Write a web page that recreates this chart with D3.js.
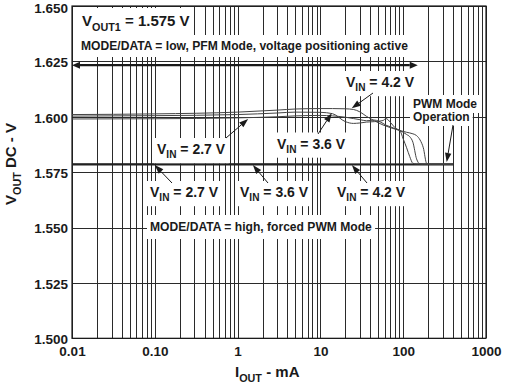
<!DOCTYPE html>
<html><head><meta charset="utf-8">
<script src="https://cdn.jsdelivr.net/npm/d3@7"></script>
<style>
body{margin:0;background:#fff}
svg text{font-family:"Liberation Sans",Arial,sans-serif;font-weight:bold;fill:#1a1a1a}
</style></head><body>
<svg id="c" width="507" height="387"></svg>
<script>
// ---- data ----
const xTickValues=[0.01,0.1,1,10,100,1000];
const xTickLabels=["0.01","0.10","1","10","100","1000"];
const yTickValues=[1.500,1.525,1.550,1.575,1.600,1.625,1.650];
const yTickLabels=["1.500","1.525","1.550","1.575","1.600","1.625","1.650"];

// PFM mode (MODE/DATA = low), I_OUT in mA
const pfmCurrent=[0.01,0.1,1,3,5,10,14,20,25,30,36,45,57,62,70,80,91,100,110,120,131,145,160,175,192,220,300,400];
const pfm42=[1.6010,1.6013,1.6021,1.6030,1.6035,1.6037,1.6037,1.6036,1.6033,1.6022,1.6002,1.5982,1.5963,1.5958,1.5951,1.5944,1.5938,1.5934,1.5930,1.5927,1.5923,1.5915,1.5895,1.5860,1.5790,1.5786,1.5786,1.5786];
const pfm36=[1.6003,1.6005,1.6010,1.6017,1.6021,1.6020,1.6014,1.5978,1.5970,1.5972,1.5976,1.5978,1.5983,1.5992,1.5975,1.5950,1.5938,1.5930,1.5920,1.5910,1.5885,1.5810,1.5787,1.5786,1.5786,1.5786,1.5786,1.5786];
const pfm27=[1.5990,1.5991,1.5995,1.6000,1.6004,1.6006,1.6004,1.5998,1.5992,1.5987,1.5982,1.5985,1.5970,1.5962,1.5955,1.5946,1.5938,1.5900,1.5860,1.5820,1.5790,1.5787,1.5787,1.5787,1.5787,1.5787,1.5787,1.5787];

// forced PWM mode (MODE/DATA = high)
const pwmCurrent=[0.01,0.1,1,10,100,400];
const pwm27=[1.5788,1.5788,1.5788,1.5787,1.5787,1.5787];
const pwm36=[1.5785,1.5785,1.5785,1.5785,1.5785,1.5785];
const pwm42=[1.5783,1.5783,1.5783,1.5783,1.5783,1.5783];

// ---- chart ----
const svg=d3.select("#c");
const x=d3.scaleLog().domain([0.01,1000]).range([72,486]);
const y=d3.scaleLinear().domain([1.5,1.65]).range([338.3,6]);

// grid
const grid=svg.append("g").attr("stroke","#2a2a2a").attr("stroke-width",1).attr("shape-rendering","crispEdges");
grid.selectAll("line.v").data(x.ticks()).join("line").attr("class","v")
  .attr("x1",d=>Math.round(x(d))+0.5).attr("x2",d=>Math.round(x(d))+0.5)
  .attr("y1",y(1.65)).attr("y2",y(1.5));
grid.selectAll("line.h").data(yTickValues).join("line").attr("class","h")
  .attr("y1",d=>Math.round(y(d))+0.5).attr("y2",d=>Math.round(y(d))+0.5)
  .attr("x1",x(0.01)).attr("x2",x(1000));
svg.append("rect").attr("x",x(0.01)).attr("y",y(1.65)).attr("width",x(1000)-x(0.01)).attr("height",y(1.5)-y(1.65))
  .attr("fill","none").attr("stroke","#1a1a1a").attr("stroke-width",1.2);

// curves
const line=d3.line().x(d=>x(d[0])).y(d=>y(d[1])).curve(d3.curveMonotoneX);
[pwm27,pwm36,pwm42].forEach(s=>{
  svg.append("path").datum(pwmCurrent.map((c,i)=>[c,s[i]])).attr("d",line)
    .attr("fill","none").attr("stroke","#222").attr("stroke-width",1.1);
});
[pfm27,pfm36,pfm42].forEach(s=>{
  svg.append("path").datum(pfmCurrent.map((c,i)=>[c,s[i]])).attr("d",line)
    .attr("fill","none").attr("stroke","#444").attr("stroke-width",1);
});

// axes labels
const xAxis=svg.append("g").attr("transform",`translate(0,${y(1.5)})`)
  .call(d3.axisBottom(x).tickValues(xTickValues).tickFormat((d,i)=>xTickLabels[i]).tickSize(0).tickPadding(8.6));
xAxis.select(".domain").remove();
xAxis.selectAll("text").attr("font-size",13.5).attr("font-family",null).style("font-family","'Liberation Sans',Arial,sans-serif");
const yAxis=svg.append("g").attr("transform",`translate(${x(0.01)},0)`)
  .call(d3.axisLeft(y).tickValues(yTickValues).tickFormat((d,i)=>yTickLabels[i]).tickSize(0).tickPadding(4));
yAxis.select(".domain").remove();
yAxis.selectAll("text").attr("font-size",13.5).attr("font-family",null).style("font-family","'Liberation Sans',Arial,sans-serif")
  .attr("dy",(d,i)=>i===yTickValues.length-1?"0.5em":"0.4em");

// rich text helper
function rich(t,parts,size){
  let sub=false;
  parts.forEach(p=>{
    const ts=t.append("tspan").text(p[0]);
    if(p[1]){ts.attr("font-size",size*0.72).attr("dy",sub?0:size*0.3);sub=true;}
    else{ts.attr("font-size",size).attr("dy",sub?-size*0.3:0);sub=false;}
  });
  return t;
}
function label(px,py,parts,size,pad){
  pad=pad||[3,3];
  const g=svg.append("g");
  const r=g.append("rect").attr("fill","#fff");
  const t=rich(g.append("text").attr("x",px).attr("y",py),parts,size);
  const b=t.node().getBBox();
  r.attr("x",b.x-pad[0]).attr("y",b.y-pad[1]).attr("width",b.width+2*pad[0]).attr("height",b.height+2*pad[1]);
  return g;
}
function arrow(x1,y1,x2,y2,w,len,hw){
  const a=Math.atan2(y2-y1,x2-x1);
  const bx=x2-len*Math.cos(a),by=y2-len*Math.sin(a);
  svg.append("line").attr("x1",x1).attr("y1",y1).attr("x2",bx).attr("y2",by).attr("stroke","#1a1a1a").attr("stroke-width",w);
  const px=-Math.sin(a)*hw,py=Math.cos(a)*hw;
  svg.append("path").attr("d",`M${x2},${y2}L${bx+px},${by+py}L${bx-px},${by-py}Z`).attr("fill","#1a1a1a");
}

// labels
label(82,26,[["V"],["OUT1",1],[" = 1.575 V"]],15,[3,4]);
label(81,50,[["MODE/DATA = low, PFM Mode, voltage positioning active"]],12.1,[3,4]);
label(150,231,[["MODE/DATA = high, forced PWM Mode"]],12.1,[3,5]);
label(413,108,[["PWM Mode"]],12,[3,2]);
label(413,121,[["Operation"]],12,[3,2]);

// top double arrow (PFM region)
const yArr=y(1.6233);
arrow(x(8),yArr,x(150),yArr,2.2,8,3.5);
arrow(x(8),yArr,x(0.01),yArr,2.2,8,3.5);

const vinNotes=[
  {tx:346,ty:87,v:" = 4.2 V",tail:[373,93],tip:[23.9,1.6038]},
  {tx:277,ty:148.5,v:" = 3.6 V",tail:[318,134],tip:[13.7,1.6016]},
  {tx:157,ty:154,v:" = 2.7 V",tail:[226,138],tip:[1.34,1.5990]},
  {tx:150,ty:197,v:" = 2.7 V",tail:[172,183],tip:[0.1,1.5782]},
  {tx:240,ty:197,v:" = 3.6 V",tail:[268,183],tip:[1.53,1.5782]},
  {tx:337,ty:197,v:" = 4.2 V",tail:[367,183],tip:[24,1.5782]}
];
vinNotes.forEach(n=>{
  label(n.tx,n.ty,[["V"],["IN",1],[n.v]],14,[3,3]);
  arrow(n.tail[0],n.tail[1],x(n.tip[0]),y(n.tip[1]),1,9,3.2);
});
arrow(453,125,x(335),y(1.5796),1,9,3.2);

// axis titles
const xt=svg.append("text").attr("x",235).attr("y",377);
rich(xt,[["I"],["OUT",1],[" - mA"]],15);
const yt=svg.append("text").attr("transform","translate(16,205) rotate(-90)");
rich(yt,[["V"],["OUT",1],[" DC - V"]],15);
</script>
</body></html>
